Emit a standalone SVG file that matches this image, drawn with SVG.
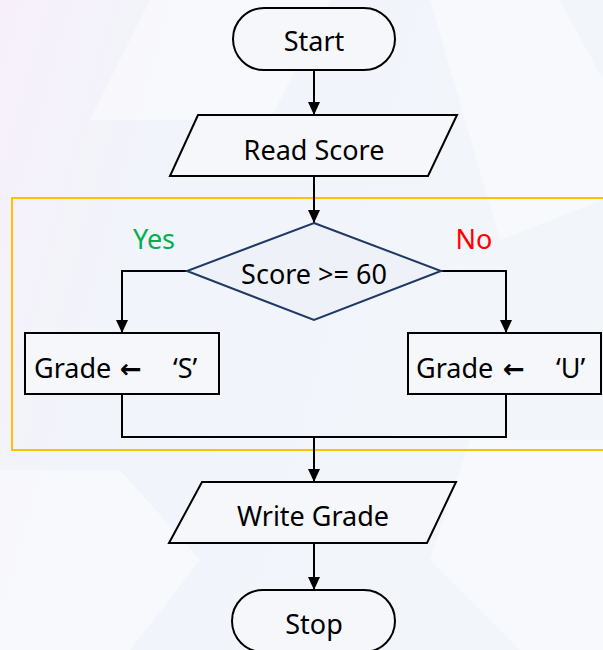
<svg xmlns="http://www.w3.org/2000/svg" width="603" height="650" viewBox="0 0 603 650">
<defs>
<linearGradient id="bg" x1="0" y1="0" x2="1" y2="0.3">
<stop offset="0" stop-color="#f7f0fa"/>
<stop offset="0.3" stop-color="#f1f4fa"/>
<stop offset="1" stop-color="#f2f5fa"/>
</linearGradient>
<marker id="ah" viewBox="0 0 13 12" refX="13" refY="6" markerWidth="13" markerHeight="12" markerUnits="userSpaceOnUse" orient="auto">
<path d="M0,0 L13,6 L0,12 Z" fill="#000"/>
</marker>
<style>
.shape{fill:#f5f7fb;stroke:#000;stroke-width:2;}
.lbl{font-family:"Noto Sans","Open Sans","DejaVu Sans",sans-serif;font-size:27px;fill:#000;}
.ctr{text-anchor:middle;}
.arr{font-family:"DejaVu Sans",sans-serif;font-weight:bold;font-size:26px;}
.conn{fill:none;stroke:#000;stroke-width:2;}
.hex{fill:#ffffff;opacity:0.45;}
</style>
</defs>
<rect x="0" y="0" width="603" height="650" fill="url(#bg)"/>
<g id="background">
<polygon class="hex" points="150,0 330,0 270,120 90,120"/>
<polygon class="hex" points="430,0 560,0 603,80 603,200 500,240"/>
<polygon class="hex" points="0,470 120,470 200,560 130,650 0,650"/>
<polygon class="hex" points="470,440 603,440 603,650 520,650 430,560"/>
</g>
<rect id="group-box" x="12" y="198" width="600" height="252" fill="none" stroke="#FFC000" stroke-width="2"/>
<g id="connectors">
<line class="conn" x1="314" y1="70" x2="314" y2="115" marker-end="url(#ah)"/>
<line class="conn" x1="314" y1="176" x2="314" y2="223" marker-end="url(#ah)"/>
<polyline class="conn" points="187,271 122,271 122,333" marker-end="url(#ah)"/>
<polyline class="conn" points="441,271 506,271 506,333" marker-end="url(#ah)"/>
<polyline class="conn" points="122,394 122,437 506,437 506,394"/>
<line class="conn" x1="314" y1="437" x2="314" y2="482" marker-end="url(#ah)"/>
<line class="conn" x1="314" y1="543" x2="314" y2="590" marker-end="url(#ah)"/>
</g>
<g id="start">
<rect class="shape" x="233" y="8" width="162" height="62" rx="31" ry="31"/>
<text class="lbl ctr" x="314" y="51">Start</text>
</g>
<g id="read-score">
<polygon class="shape" points="198,115 457,115 428,176 170,176"/>
<text class="lbl ctr" x="314" y="160">Read Score</text>
</g>
<g id="decision">
<polygon points="314,223 441,271 314,320 187,271" fill="#eef2f8" stroke="#1F3864" stroke-width="2"/>
<text class="lbl ctr" x="314" y="284">Score &gt;= 60</text>
<text class="lbl ctr" x="154" y="249" style="fill:#00B050">Yes</text>
<text class="lbl ctr" x="474" y="249" style="fill:#FF0000">No</text>
</g>
<g id="grade-s">
<rect class="shape" x="25" y="333" width="194" height="61"/>
<text class="lbl" y="378"><tspan x="34">Grade</tspan><tspan class="arr" x="120">←</tspan><tspan x="173">‘S’</tspan></text>
</g>
<g id="grade-u">
<rect class="shape" x="408" y="333" width="193" height="61"/>
<text class="lbl" y="378"><tspan x="416">Grade</tspan><tspan class="arr" x="503">←</tspan><tspan x="556">‘U’</tspan></text>
</g>
<g id="write-grade">
<polygon class="shape" points="202,482 456,482 427,543 169,543"/>
<text class="lbl ctr" x="313" y="526">Write Grade</text>
</g>
<g id="stop">
<rect class="shape" x="232" y="590" width="163" height="62" rx="31" ry="31"/>
<text class="lbl ctr" x="314" y="634">Stop</text>
</g>
</svg>
